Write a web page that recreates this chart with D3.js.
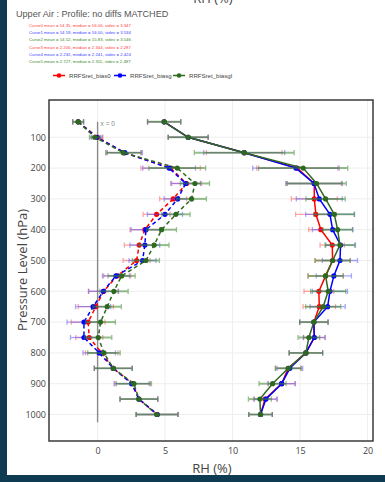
<!DOCTYPE html>
<html>
<head>
<meta charset="utf-8">
<script src="https://cdn.jsdelivr.net/npm/d3@7"></script>
<style>
  html, body { margin: 0; padding: 0; background: #0e3a52; }
  svg { display: block; }
</style>
</head>
<body>
<svg id="chart" width="385" height="482"></svg>
<script>
// Pressure levels (hPa)
const levels = [50, 100, 150, 200, 250, 300, 350, 400, 450, 500,
                550, 600, 650, 700, 750, 800, 850, 900, 950, 1000];

const seriesNames = ["RRFSret_bias0", "RRFSret_biasg", "RRFSret_biasgl"];
const seriesColors = ["#ff0000", "#0000ff", "#2d6a1f"];
const errColors = ["#ff4d4d", "#4d4dff", "#3d8a2d"];

// Solid profiles (RH %)
const solidBias0  = [4.93, 6.71, 10.86, 14.79, 16.05, 16.05, 16.17, 16.54, 17.38, 17.41,
                     16.89, 16.39, 16.42, 16.02, 16.05, 15.43, 14.12, 13.63, 12.40, 12.07];
const solidBiasg  = [4.93, 6.71, 10.86, 14.69, 16.03, 16.42, 17.21, 17.41, 18.00, 17.95,
                     17.50, 17.21, 17.04, 16.02, 16.05, 15.43, 14.24, 13.63, 12.47, 12.07];
const solidBiasgl = [4.93, 6.71, 10.86, 15.23, 16.22, 16.89, 17.53, 17.78, 17.95, 17.41,
                     16.89, 17.08, 16.71, 16.02, 15.65, 15.43, 14.12, 12.96, 12.02, 12.07];
const solidErr0   = [1.23, 1.48, 2.8, 3.0, 2.0, 1.7, 1.5, 0.9, 0.9, 1.3,
                     1.3, 1.1, 1.2, 1.05, 0.8, 1.24, 0.95, 1.0, 0.85, 0.87];
const solidErrg   = [1.23, 1.48, 3.0, 3.2, 2.1, 1.7, 1.8, 1.5, 1.1, 1.3,
                     1.3, 1.3, 1.3, 1.05, 0.8, 1.24, 0.95, 1.0, 0.85, 0.87];
const solidErrgl  = [1.23, 1.48, 3.7, 3.3, 2.2, 1.45, 1.5, 1.1, 1.1, 1.3,
                     1.3, 1.3, 1.3, 1.05, 0.8, 1.24, 0.95, 1.0, 0.85, 0.87];

// Dashed profiles (RH %)
const dashBias0   = [-1.44, 0.00, 1.95, 5.41, 6.59, 5.60, 4.37, 3.50, 3.08, 2.89,
                     1.45, 0.45, -0.13, -0.70, -0.62, 0.30, 1.16, 2.60, 3.06, 4.42];
const dashBiasg   = [-1.44, -0.07, 2.02, 5.30, 6.52, 5.93, 4.99, 3.58, 3.50, 3.33,
                     1.36, 0.42, -0.33, -1.01, -1.01, 0.12, 1.16, 2.52, 3.06, 4.42];
const dashBiasgl  = [-1.44, -0.20, 1.90, 5.90, 7.21, 6.96, 5.80, 4.74, 4.19, 3.58,
                     1.78, 1.21, 0.71, 0.22, 0.05, 0.47, 1.16, 2.69, 3.06, 4.38];
const dashErr0    = [0.4, 0.4, 1.3, 2.2, 1.1, 1.0, 1.0, 1.1, 1.1, 1.0,
                     1.0, 1.1, 1.3, 1.25, 1.0, 1.2, 1.4, 1.3, 1.4, 1.55];
const dashErrg    = [0.4, 0.4, 1.3, 1.95, 1.1, 1.0, 1.3, 1.1, 1.1, 1.0,
                     1.0, 1.1, 1.3, 1.25, 1.0, 1.2, 1.4, 1.3, 1.4, 1.55];
const dashErrgl   = [0.4, 0.4, 1.3, 2.1, 1.08, 1.1, 1.05, 1.1, 1.1, 1.0,
                     1.0, 1.05, 1.05, 1.1, 1.0, 1.2, 1.4, 1.3, 1.4, 1.55];

const statLines = [
  "Curve0 mean = 14.35, median = 16.06, stdev = 3.347",
  "Curve1 mean = 14.59, median = 16.00, stdev = 3.534",
  "Curve2 mean = 14.52, median = 15.83, stdev = 3.546",
  "Curve3 mean = 2.206, median = 2.344, stdev = 2.287",
  "Curve4 mean = 2.232, median = 2.241, stdev = 2.424",
  "Curve5 mean = 2.727, median = 2.311, stdev = 2.487"
];
const statColors = ["#ff4040", "#4040ff", "#3d8a2d", "#ff4040", "#4040ff", "#3d8a2d"];

const xTicks = [0, 5, 10, 15, 20];
const yTicks = [100, 200, 300, 400, 500, 600, 700, 800, 900, 1000];

const svg = d3.select("#chart");

// page panel
svg.append("rect").attr("x", 7).attr("y", 0).attr("width", 378).attr("height", 475)
  .attr("fill", "#ffffff");

const plot = { left: 49, right: 373, top: 100, bottom: 441 };
const x = d3.scaleLinear().domain([-3.6, 20.4]).range([plot.left, plot.right]);
const y = d3.scaleLinear().domain([-21, 1086]).range([plot.top, plot.bottom]);

// header texts
svg.append("text").attr("x", 213).attr("y", 3).attr("text-anchor", "middle")
  .attr("font-family", "Open Sans, sans-serif").attr("font-size", 13).attr("fill", "#444")
  .text("RH (%)");
svg.append("text").attr("x", 16).attr("y", 17)
  .attr("font-family", "Liberation Sans, Arial, sans-serif").attr("font-size", 9.1).attr("fill", "#555")
  .text("Upper Air : Profile: no diffs MATCHED");
svg.selectAll("text.stat").data(statLines).enter().append("text")
  .attr("class", "stat")
  .attr("x", 29).attr("y", (d, i) => 26.6 + i * 7.3)
  .attr("font-family", "Liberation Sans, Arial, sans-serif").attr("font-size", 4.3)
  .attr("fill", (d, i) => statColors[i])
  .text(d => d);

// legend
const legendX = [53, 114, 173];
const leg = svg.append("g");
seriesNames.forEach((name, i) => {
  const g = leg.append("g").attr("transform", `translate(${legendX[i]},75.5)`);
  g.append("line").attr("x1", 0).attr("x2", 12).attr("y1", 0).attr("y2", 0)
    .attr("stroke", seriesColors[i]).attr("stroke-width", 1.5);
  g.append("circle").attr("cx", 6).attr("cy", 0).attr("r", 2.3).attr("fill", seriesColors[i]);
  g.append("text").attr("x", 16).attr("y", 2)
    .attr("font-family", "Liberation Sans, Arial, sans-serif").attr("font-size", 6.1)
    .attr("fill", "#444").text(name);
});

// gridlines
const grid = svg.append("g");
grid.selectAll("line.gx").data(xTicks).enter().append("line")
  .attr("x1", d => x(d)).attr("x2", d => x(d)).attr("y1", plot.top).attr("y2", plot.bottom)
  .attr("stroke", "#eeeeee").attr("stroke-width", 1);
grid.selectAll("line.gy").data(yTicks).enter().append("line")
  .attr("x1", plot.left).attr("x2", plot.right).attr("y1", d => y(d)).attr("y2", d => y(d))
  .attr("stroke", "#eeeeee").attr("stroke-width", 1);

// axes
const xAxis = d3.axisBottom(x).tickValues(xTicks).tickSize(0).tickPadding(7).tickFormat(d3.format("d"));
const yAxis = d3.axisLeft(y).tickValues(yTicks).tickSize(0).tickPadding(3).tickFormat(d3.format("d"));
const gx = svg.append("g").attr("transform", `translate(0,${plot.bottom})`).call(xAxis);
const gy = svg.append("g").attr("transform", `translate(${plot.left},0)`).call(yAxis);
[gx, gy].forEach(g => {
  g.select(".domain").remove();
  g.selectAll("text").attr("font-family", "Open Sans, sans-serif").attr("font-size", 9).attr("fill", "#444");
});

// axis titles
svg.append("text").attr("x", 212).attr("y", 473).attr("text-anchor", "middle")
  .attr("font-family", "Open Sans, sans-serif").attr("font-size", 13).attr("fill", "#444")
  .text("RH (%)");
svg.append("text").attr("transform", "translate(27,270) rotate(-90)").attr("text-anchor", "middle")
  .attr("font-family", "Open Sans, sans-serif").attr("font-size", 13).attr("fill", "#444")
  .text("Pressure Level (hPa)");

// x = 0 reference line
svg.append("line").attr("x1", x(0)).attr("x2", x(0)).attr("y1", y(50)).attr("y2", y(1025))
  .attr("stroke", "#8a8a8a").attr("stroke-width", 1.4);
svg.append("text").attr("x", x(0) + 3).attr("y", y(50) + 4)
  .attr("font-family", "Liberation Sans, Arial, sans-serif").attr("font-size", 6.5).attr("fill", "#888")
  .text("x = 0");

const curves = [
  { vals: solidBias0,  err: solidErr0,  s: 0, dash: null },
  { vals: solidBiasg,  err: solidErrg,  s: 1, dash: null },
  { vals: solidBiasgl, err: solidErrgl, s: 2, dash: null },
  { vals: dashBias0,   err: dashErr0,   s: 0, dash: "4,3" },
  { vals: dashBiasg,   err: dashErrg,   s: 1, dash: "4,3" },
  { vals: dashBiasgl,  err: dashErrgl,  s: 2, dash: "4,3" }
];

const line = d3.line().x(d => x(d.v)).y(d => y(d.p));
const plotG = svg.append("g");

curves.forEach(c => {
  const pts = levels.map((p, i) => ({ p, v: c.vals[i], e: c.err[i] }));
  const col = seriesColors[c.s];
  const ecol = errColors[c.s];
  const eg = plotG.append("g").attr("opacity", c.s === 2 ? 0.55 : 0.5);
  eg.selectAll("line.bar").data(pts).enter().append("line")
    .attr("x1", d => x(d.v - d.e)).attr("x2", d => x(d.v + d.e))
    .attr("y1", d => y(d.p)).attr("y2", d => y(d.p))
    .attr("stroke", ecol).attr("stroke-width", c.s === 2 ? 2 : 1.3);
  ["lo", "hi"].forEach(side => {
    eg.selectAll("line.cap" + side).data(pts).enter().append("line")
      .attr("x1", d => x(side === "lo" ? d.v - d.e : d.v + d.e))
      .attr("x2", d => x(side === "lo" ? d.v - d.e : d.v + d.e))
      .attr("y1", d => y(d.p) - 2.6).attr("y2", d => y(d.p) + 2.6)
      .attr("stroke", ecol).attr("stroke-width", 1.3);
  });
  plotG.append("path").datum(pts).attr("d", line)
    .attr("fill", "none").attr("stroke", col).attr("stroke-width", 1.5)
    .attr("stroke-dasharray", c.dash);
  plotG.selectAll(null).data(pts).enter().append("circle")
    .attr("cx", d => x(d.v)).attr("cy", d => y(d.p)).attr("r", 2.6).attr("fill", col);
});

// plot frame
svg.append("rect").attr("x", plot.left).attr("y", plot.top)
  .attr("width", plot.right - plot.left).attr("height", plot.bottom - plot.top)
  .attr("fill", "none").attr("stroke", "#3a3a3a").attr("stroke-width", 1.5);
</script>
</body>
</html>
